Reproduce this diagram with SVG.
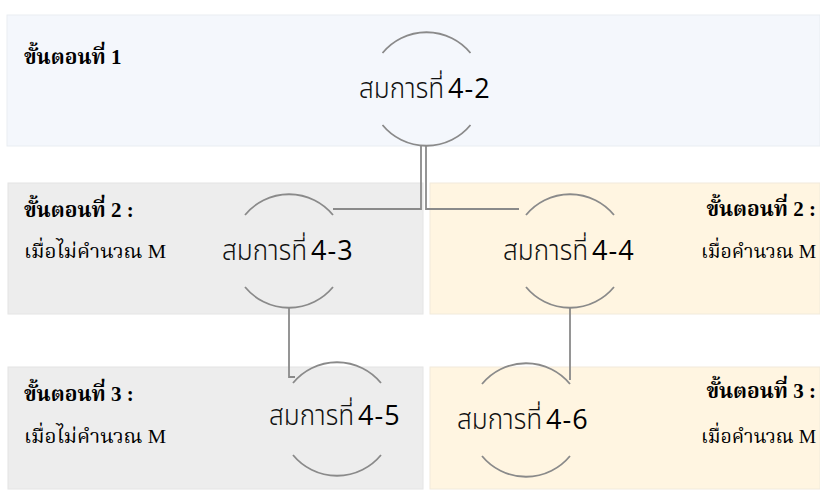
<svg xmlns="http://www.w3.org/2000/svg" width="820" height="491" viewBox="0 0 820 491">
  <style>
    .band-blue { fill: #F4F7FC; stroke: #E9EDF2; stroke-width: 1; }
    .band-gray { fill: #EDEDED; stroke: #E4E4E4; stroke-width: 1; }
    .band-cream { fill: #FFF5E1; stroke: #F1EADB; stroke-width: 1; }
    .arc { fill: none; stroke: #8A8A8A; stroke-width: 1.8; }
    .wire { fill: none; stroke: #8A8A8A; stroke-width: 1.8; }
    .step { font-family: "Liberation Serif", "Noto Serif Thai", "Noto Sans Thai", serif; font-size: 21px; font-weight: bold; fill: #000; }
    .cond { font-family: "Liberation Serif", "Noto Serif Thai", "Noto Sans Thai", serif; font-size: 19.5px; fill: #000; }
    .right { text-anchor: end; }
    .eq-th { font-family: "Noto Sans Thai", "Noto Sans", "DejaVu Sans", sans-serif; font-size: 28px; font-weight: 300; fill: #111; }
    .eq-num { font-family: "Open Sans", "Noto Sans", sans-serif; font-size: 27px; letter-spacing: 1px; fill: #000; }
  </style>

  <!-- background bands -->
  <g id="bands">
    <rect class="band-blue" x="7" y="15" width="813" height="131"/>
    <rect class="band-gray" x="8" y="183" width="415" height="131"/>
    <rect class="band-cream" x="430" y="183" width="390" height="131"/>
    <rect class="band-gray" x="8" y="367" width="415" height="122"/>
    <rect class="band-cream" x="430" y="367" width="390" height="122"/>
  </g>

  <!-- step labels -->
  <g id="labels">
    <text class="step" x="24" y="64">ขั้นตอนที่ 1</text>
    <text class="step" x="24" y="217">ขั้นตอนที่ 2 :</text>
    <text class="cond" x="24" y="258" textLength="142" lengthAdjust="spacingAndGlyphs">เมื่อไม่คำนวณ M</text>
    <text class="step right" x="816" y="216">ขั้นตอนที่ 2 :</text>
    <text class="cond right" x="816" y="258">เมื่อคำนวณ M</text>
    <text class="step" x="24" y="401">ขั้นตอนที่ 3 :</text>
    <text class="cond" x="24" y="443" textLength="142" lengthAdjust="spacingAndGlyphs">เมื่อไม่คำนวณ M</text>
    <text class="step right" x="816" y="398">ขั้นตอนที่ 3 :</text>
    <text class="cond right" x="816" y="443">เมื่อคำนวณ M</text>
  </g>

  <!-- connectors -->
  <g id="connectors">
    <path class="wire" d="M421,146 V209 H333"/>
    <path class="wire" d="M426,146 V209 H519"/>
    <path class="wire" d="M289,308 V377 H295"/>
    <path class="wire" d="M570,308 V380"/>
  </g>

  <!-- equation nodes: open circle drawn as top and bottom arcs -->
  <g id="eq-4-2">
    <path class="arc" d="M382.5,53 A57,57 0 0 1 470.5,53"/>
    <path class="arc" d="M382.5,125 A57,57 0 0 0 470.5,125"/>
    <text class="eq-th" x="359" y="98" textLength="85" lengthAdjust="spacingAndGlyphs">สมการที่</text>
    <text class="eq-num" x="448" y="98">4-2</text>
  </g>
  <g id="eq-4-3">
    <path class="arc" d="M245,215 A57,57 0 0 1 333,215"/>
    <path class="arc" d="M245,287 A57,57 0 0 0 333,287"/>
    <text class="eq-th" x="222" y="260" textLength="85" lengthAdjust="spacingAndGlyphs">สมการที่</text>
    <text class="eq-num" x="311" y="260">4-3</text>
  </g>
  <g id="eq-4-4">
    <path class="arc" d="M526,215 A57,57 0 0 1 614,215"/>
    <path class="arc" d="M526,287 A57,57 0 0 0 614,287"/>
    <text class="eq-th" x="503" y="260" textLength="85" lengthAdjust="spacingAndGlyphs">สมการที่</text>
    <text class="eq-num" x="592" y="260">4-4</text>
  </g>
  <g id="eq-4-5">
    <path class="arc" d="M293,383 A57,57 0 0 1 381,383"/>
    <path class="arc" d="M293,455 A57,57 0 0 0 381,455"/>
    <text class="eq-th" x="269" y="425" textLength="85" lengthAdjust="spacingAndGlyphs">สมการที่</text>
    <text class="eq-num" x="358" y="425">4-5</text>
  </g>
  <g id="eq-4-6">
    <path class="arc" d="M482,384 A57,57 0 0 1 570,384"/>
    <path class="arc" d="M482,456 A57,57 0 0 0 570,456"/>
    <text class="eq-th" x="457" y="429" textLength="85" lengthAdjust="spacingAndGlyphs">สมการที่</text>
    <text class="eq-num" x="546" y="429">4-6</text>
  </g>
</svg>
